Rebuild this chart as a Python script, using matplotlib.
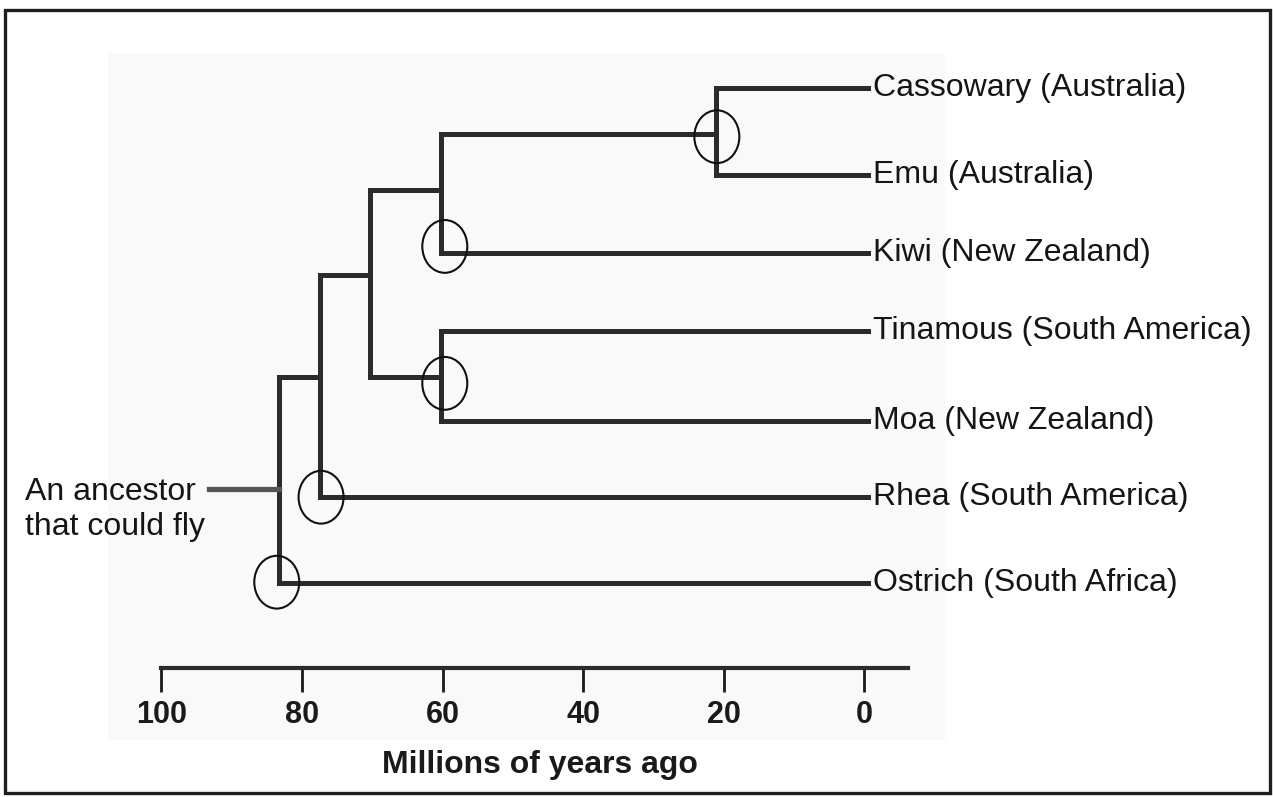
import matplotlib
matplotlib.use("Agg")
import matplotlib.pyplot as plt
from matplotlib.patches import Ellipse, Rectangle

plt.rcParams['font.family'] = ['Liberation Sans', 'DejaVu Sans']

# tips, top to bottom
tips = ["Cassowary (Australia)", "Emu (Australia)", "Kiwi (New Zealand)",
        "Tinamous (South America)", "Moa (New Zealand)",
        "Rhea (South America)", "Ostrich (South Africa)"]
tip_rows = [0, 1.05, 2.0, 2.95, 4.04, 4.96, 6.0]
tip_age = -0.5

# internal nodes: age (millions of years), row where its stem joins, children
node_names = ["A", "B", "C", "D", "E", "F"]
node_ages = [21.1, 60.2, 60.2, 70.3, 77.5, 83.3]
node_rows = [0.56, 1.24, 3.5, 2.27, 3.5, 4.86]
node_kids = [["Cassowary (Australia)", "Emu (Australia)"],
             ["A", "Kiwi (New Zealand)"],
             ["Tinamous (South America)", "Moa (New Zealand)"],
             ["B", "C"],
             ["D", "Rhea (South America)"],
             ["E", "Ostrich (South Africa)"]]
ancestor_age = 93.3

# circled branch points
circle_ages = [21.0, 59.7, 59.7, 77.3, 83.6]
circle_rows = [0.59, 1.92, 3.58, 4.96, 5.99]

ticks = [100, 80, 60, 40, 20, 0]
tick_labels = ["100", "80", "60", "40", "20", "0"]

line_col = '#2b2b2b'

fig = plt.figure(figsize=(12.73, 7.97), dpi=100)
ax = fig.add_axes([0, 0, 1, 1])
ax.set_facecolor('none')
ax.set_xlim(122.97, -58.11)
ax.set_ylim(8.594, -1.067)

# faint scanned background + outer frame
ax.add_patch(Rectangle((108 / 1273, 1 - 740 / 797), 837 / 1273, 687 / 797,
                       transform=fig.transFigure, color='#f9f9f9', lw=0, zorder=0))
ax.add_patch(Rectangle((5 / 1273, 4 / 797), 1265 / 1273, 783 / 797,
                       transform=fig.transFigure, fill=False, ec='#1e1e1e',
                       lw=2.4, clip_on=False, zorder=5))

age = {}
row = {}
for t, r in zip(tips, tip_rows):
    age[t] = tip_age
    row[t] = r
for n, a, r in zip(node_names, node_ages, node_rows):
    age[n] = a
    row[n] = r

for n, kids in zip(node_names, node_kids):
    rs = [row[k] for k in kids]
    ax.plot([age[n], age[n]], [min(rs), max(rs)], color=line_col, lw=3.6,
            solid_capstyle='projecting', zorder=2)
    for k in kids:
        ax.plot([age[n], age[k]], [row[k], row[k]], color=line_col, lw=3.6,
                solid_capstyle='projecting', zorder=2)

# ancestor stem
ax.plot([ancestor_age, age["F"]], [row["F"], row["F"]], color='#555555', lw=3.8, zorder=2)

for a, r in zip(circle_ages, circle_rows):
    ax.add_patch(Ellipse((a, r), 6.4, 0.64, fill=False, ec='#111111', lw=1.5, zorder=3))

for t, r in zip(tips, tip_rows):
    ax.text(-1.2, r, t, fontsize=23, color='#151515', ha='left', va='center')

ax.text(119.4, 5.11, "An ancestor\nthat could fly", fontsize=23, color='#151515',
        ha='left', va='center', linespacing=1.22)

# time axis
for s in ['top', 'left', 'right']:
    ax.spines[s].set_visible(False)
ax.spines['bottom'].set_position(('data', 7.03))
ax.spines['bottom'].set_bounds(100, -6.2)
ax.spines['bottom'].set_linewidth(3)
ax.spines['bottom'].set_color('#2b2b2b')
ax.set_yticks([])
ax.set_xticks(ticks)
ax.set_xticklabels(tick_labels, fontweight='bold')
ax.tick_params(axis='x', direction='out', length=17, width=2, pad=6,
               labelsize=22, colors='#1a1a1a')
ax.set_xlabel("Millions of years ago", fontsize=23, fontweight='bold', color='#1a1a1a')
ax.xaxis.set_label_coords(540 / 1273, 1 - 750 / 797)

fig.savefig('out.png', dpi=100)
